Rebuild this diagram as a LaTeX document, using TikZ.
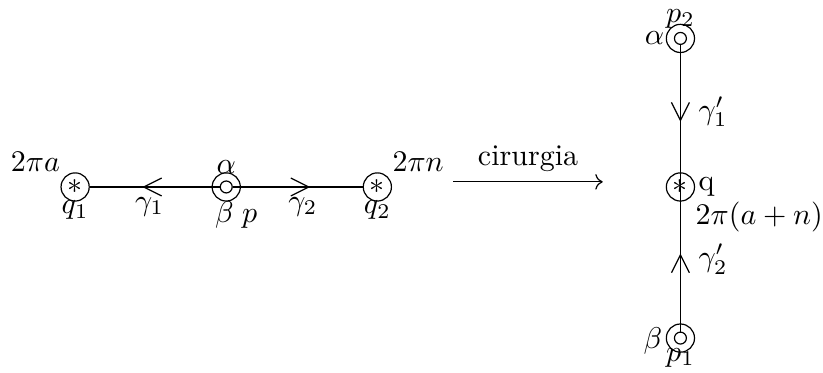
\documentclass[tikz,border=0pt]{standalone}
\usepackage{amsmath}
\usetikzlibrary{arrows.meta,positioning,decorations.markings}

\begin{document}
\begin{tikzpicture}[
    node distance=1.77cm,
    on grid,
    every label/.style={inner sep=0pt},
    cone/.style={
        circle,
        draw,
        inner sep=0pt,
        minimum size=3.3mm
    },
    puncture/.style={
        circle,
        draw,
        inner sep=0pt,
        minimum size=1.4mm
    },
    midarrow/.style={
        postaction={decorate},
        decoration={
            markings,
            mark=at position #1 with {\arrow{Straight Barb[length=2.1mm,width=2.1mm]}}
        }
    },
    arrow/.style={->}
]
\useasboundingbox (0,0) rectangle (9.64,4.36);

% before the surgery
\node[cone,
    label={[label distance=2pt]135:$2\pi a$},
    label={[label distance=-0.5pt]below:$q_1$}] (q1) at (0.88,2.17) {$\ast$};

\node[puncture, right=of q1,
    label={[label distance=2pt]above:$\alpha$},
    label={[label distance=2.5pt,xshift=3.3pt]below:$\beta\;p$}] (p) {};

\node[cone, right=of p,
    label={[label distance=2pt]45:$2\pi n$},
    label={[label distance=-0.5pt]below:$q_2$}] (q2) {$\ast$};

% surgery arrow
\coordinate (s1) at (5.31,2.23);
\coordinate (s2) at (7.06,2.23);

% after the surgery
\node[cone,
    label={[label distance=1pt]right:q},
    label={[label distance=2pt]-45:$2\pi(a+n)$}] (q) at (7.97,2.17) {$\ast$};

\node[puncture, above=1.74cm of q,
    label={[label distance=1pt]above:$p_2$},
    label={[label distance=3pt]left:$\alpha$}] (p2) {};

\node[puncture, below=1.77cm of q,
    label={[label distance=1pt]below:$p_1$},
    label={[label distance=3.7pt,yshift=-1pt]left:$\beta$}] (p1) {};

\foreach \punct in {p,p1,p2}
    \draw (\punct) circle (1.65mm);

\draw[midarrow=0.595] (p) -- (q1) node[pos=0.54, below] {$\gamma_1$};
\draw[midarrow=0.595] (p) -- (q2) node[pos=0.54, below] {$\gamma_2$};
\draw[arrow] (s1) -- (s2) node[midway, above] {cirurgia};
\draw[midarrow=0.54] (p2) -- (q.center) node[pos=0.47, right=2.5pt] {$\gamma'_1$};
\draw[midarrow=0.54] (p1) -- (q.center) node[pos=0.5, right=2.5pt] {$\gamma'_2$};

\end{tikzpicture}
\end{document}
